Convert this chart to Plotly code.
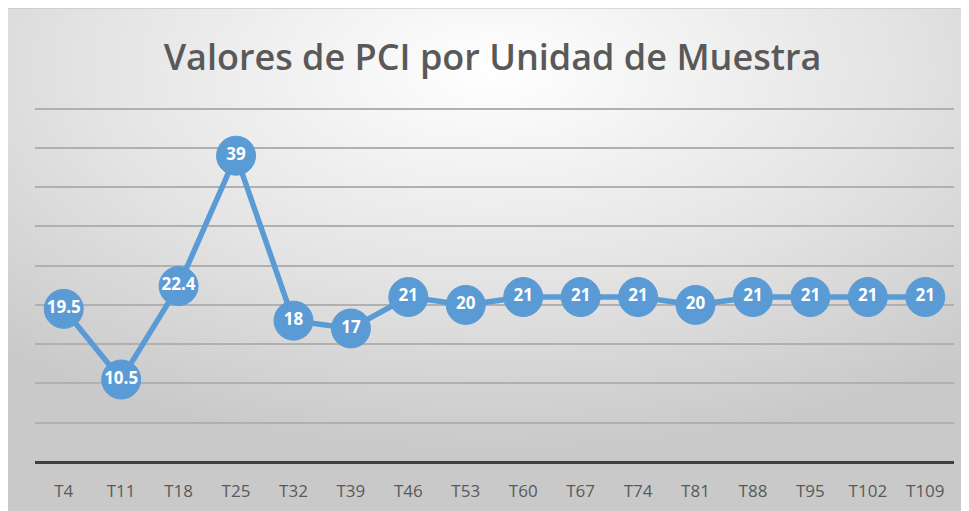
import base64
import plotly.graph_objects as go

categories = ["T4", "T11", "T18", "T25", "T32", "T39", "T46", "T53", "T60",
              "T67", "T74", "T81", "T88", "T95", "T102", "T109"]
pci_values = [19.5, 10.5, 22.4, 39, 18, 17, 21, 20, 21, 21, 21, 20, 21, 21, 21, 21]
value_labels = ["19.5", "10.5", "22.4", "39", "18", "17", "21", "20", "21",
                "21", "21", "20", "21", "21", "21", "21"]
title_text = "Valores de PCI por Unidad de Muestra"

W, H = 969, 511
ML, MR, MT, MB = 27, 23, 99.3, 57.3

svg = f'''<svg xmlns="http://www.w3.org/2000/svg" width="{W}" height="{H}" viewBox="0 0 {W} {H}" preserveAspectRatio="none">
<defs><radialGradient id="g" cx="0.5" cy="0.12" r="0.75" gradientUnits="objectBoundingBox">
<stop offset="0" stop-color="#ffffff"/><stop offset="0.55" stop-color="#e4e4e4"/><stop offset="1" stop-color="#c9c9c9"/>
</radialGradient></defs>
<rect x="0" y="0" width="{W}" height="{H}" fill="url(#g)"/>
<line x1="0" y1="0.5" x2="{W}" y2="0.5" stroke="#bdbdbd" stroke-width="1"/>
</svg>'''
src = "data:image/svg+xml;base64," + base64.b64encode(svg.encode()).decode()

pw = W - ML - MR
ph = H - MT - MB
x0 = -ML / pw
x1 = (W - ML) / pw
y_top = (H - MB) / ph
y_bot = -MB / ph

fig = go.Figure()
fig.add_trace(go.Scatter(
    x=categories, y=pci_values, text=value_labels,
    mode="lines+markers+text",
    line=dict(color="#5B9BD5", width=5.5),
    marker=dict(size=39, color="#5B9BD5", line=dict(color="#5B9BD5", width=1)),
    textposition="middle center",
    textfont=dict(family="Open Sans", size=17, color="white", weight="bold"),
    cliponaxis=False,
    hoverinfo="skip",
))

fig.update_layout(
    width=W, height=H,
    margin=dict(l=ML, r=MR, t=MT, b=MB),
    paper_bgcolor="white",
    plot_bgcolor="rgba(0,0,0,0)",
    showlegend=False,
    title=dict(text=title_text, x=0.5, xanchor="center", y=1 - 49 / H, yanchor="middle",
               font=dict(family="Open Sans", size=36, color="#595959", weight=600)),
    images=[dict(source=src, xref="paper", yref="paper", x=x0, y=y_top,
                 sizex=x1 - x0, sizey=y_top - y_bot, sizing="stretch",
                 xanchor="left", yanchor="top", layer="below")],
    xaxis=dict(type="category", range=[-0.5, 15.5], showgrid=False,
               showline=False, ticks="", zeroline=False, ticklabelstandoff=17,
               tickfont=dict(family="Open Sans", size=17, color="#595959")),
    yaxis=dict(range=[0, 45.2], dtick=5, showticklabels=False, showgrid=True,
               gridcolor="#b0b0b0", gridwidth=1.5, zeroline=True,
               zerolinecolor="#404040", zerolinewidth=3, showline=False, ticks=""),
)

fig.write_html("out.html")
